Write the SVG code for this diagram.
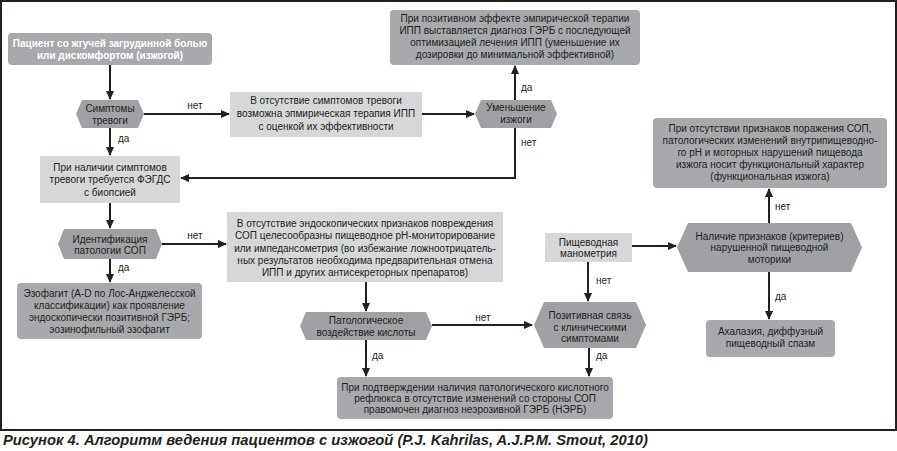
<svg xmlns="http://www.w3.org/2000/svg" width="897" height="451" viewBox="0 0 897 451">
<style>
text{font-family:"Liberation Sans",Arial,sans-serif;font-size:10px;fill:#231f20;text-anchor:middle}
.dark{fill:#a8a9ac}
.hex{fill:#a0a1a4}
.light{fill:#d6d7d8}
.w{fill:#ffffff;font-weight:bold}
.lbl{font-size:10px}
.st{text-anchor:start}
.conn{stroke:#231f20;stroke-width:2;fill:none}
.cap{font-size:15px;font-weight:bold;font-style:italic;text-anchor:start}
</style>
<defs>
<marker id="ah" markerUnits="userSpaceOnUse" markerWidth="9" markerHeight="8" refX="8" refY="4" orient="auto">
<path d="M0,0 L9,4 L0,8 z" fill="#231f20"/>
</marker>
</defs>
<rect x="1" y="1" width="895" height="429" fill="#ffffff" stroke="#231f20" stroke-width="2"/>

<g id="connectors">
<path class="conn" d="M110,65 V99" marker-end="url(#ah)"/>
<path class="conn" d="M144,114 H229" marker-end="url(#ah)"/>
<path class="conn" d="M422,114 H474" marker-end="url(#ah)"/>
<path class="conn" d="M515,100 V66" marker-end="url(#ah)"/>
<path class="conn" d="M515,128 V178 H181" marker-end="url(#ah)"/>
<path class="conn" d="M110,128 V155" marker-end="url(#ah)"/>
<path class="conn" d="M110,203 V228" marker-end="url(#ah)"/>
<path class="conn" d="M162,244 H226" marker-end="url(#ah)"/>
<path class="conn" d="M110,259 V282" marker-end="url(#ah)"/>
<path class="conn" d="M366,282 V311" marker-end="url(#ah)"/>
<path class="conn" d="M432,325 H532" marker-end="url(#ah)"/>
<path class="conn" d="M366,340 V376" marker-end="url(#ah)"/>
<path class="conn" d="M589,348 V376" marker-end="url(#ah)"/>
<path class="conn" d="M588,262 V301" marker-end="url(#ah)"/>
<path class="conn" d="M632,246 H676" marker-end="url(#ah)"/>
<path class="conn" d="M769,223 V189" marker-end="url(#ah)"/>
<path class="conn" d="M769,272 V319" marker-end="url(#ah)"/>
<text x="195" y="109">нет</text>
<text class="st" x="521" y="91">да</text>
<text class="st" x="521" y="146">нет</text>
<text class="st" x="118" y="142">да</text>
<text x="195" y="239">нет</text>
<text class="st" x="118" y="271">да</text>
<text x="483" y="321">нет</text>
<text class="st" x="372" y="359">да</text>
<text class="st" x="596" y="359">да</text>
<text class="st" x="596" y="284">нет</text>
<text class="st" x="775" y="210">нет</text>
<text class="st" x="775" y="300">да</text>
</g>

<g id="n1">
<rect class="dark" x="8" y="33" width="204" height="32" rx="4"/>
<text class="w" x="110" y="47">Пациент со жгучей загрудинной болью</text>
<text class="w" x="110" y="59">или дискомфортом (изжогой)</text>
</g>

<g id="n2">
<polygon class="hex" points="76,114 82,100 138,100 144,114 138,128 82,128"/>
<text x="110" y="111.5">Симптомы</text>
<text x="110" y="123.5">тревоги</text>
</g>

<g id="n3">
<rect class="light" x="230" y="92" width="192" height="45"/>
<text x="326" y="104">В отсутствие симптомов тревоги</text>
<text x="326" y="117">возможна эпмирическая терапия ИПП</text>
<text x="326" y="130">с оценкой их эффективности</text>
</g>

<g id="n4">
<polygon class="hex" points="475,114 481,100 551,100 557,114 551,128 481,128"/>
<text x="516" y="111">Уменьшение</text>
<text x="516" y="123">изжоги</text>
</g>

<g id="n5">
<rect class="dark" x="390" y="10" width="250" height="55" rx="4"/>
<text x="515" y="22">При позитивном эффекте эмпирической терапии</text>
<text x="515" y="34">ИПП выставляется диагноз ГЭРБ с последующей</text>
<text x="515" y="46">оптимизацией лечения ИПП (уменьшение их</text>
<text x="515" y="58">дозировки до минимальной эффективной)</text>
</g>

<g id="n6">
<rect class="light" x="40" y="156" width="140" height="47"/>
<text x="110" y="170.5">При наличии симптомов</text>
<text x="110" y="183">тревоги требуется ФЭГДС</text>
<text x="110" y="195.5">с биопсией</text>
</g>

<g id="n7">
<polygon class="hex" points="58,244 64,229 156,229 162,244 156,259 64,259"/>
<text x="110" y="242.5">Идентификация</text>
<text x="110" y="254">патологии СОП</text>
</g>

<g id="n8">
<rect class="light" x="227" y="212" width="276" height="70"/>
<text x="365" y="226.5">В отсутствие эндоскопических признаков повреждения</text>
<text x="365" y="239">СОП целесообразны пищеводное рН-мониторирование</text>
<text x="365" y="251.5">или импедансометрия (во избежание ложноотрицатель-</text>
<text x="365" y="263.5">ных результатов необходима предварительная отмена</text>
<text x="365" y="275.5">ИПП и других антисекреторных препаратов)</text>
</g>

<g id="n9">
<rect class="dark" x="17" y="283" width="185" height="56" rx="4"/>
<text x="109.5" y="296.5">Эзофагит (A-D по Лос-Анджелесской</text>
<text x="109.5" y="308.5">классификации) как проявление</text>
<text x="109.5" y="321">эндоскопически позитивной ГЭРБ;</text>
<text x="109.5" y="333">эозинофильный эзофагит</text>
</g>

<g id="n10">
<polygon class="hex" points="300,326 306,312 426,312 432,326 426,340 306,340"/>
<text x="366" y="323.5">Патологическое</text>
<text x="366" y="336">воздействие кислоты</text>
</g>

<g id="n11">
<polygon class="hex" points="534,325 544,302 636,302 646,325 636,348 544,348"/>
<text x="590" y="318.5">Позитивная связь</text>
<text x="590" y="330.5">с клиническими</text>
<text x="590" y="342">симптомами</text>
</g>

<g id="n12">
<rect class="light" x="545" y="233" width="87" height="29"/>
<text x="588.5" y="246">Пищеводная</text>
<text x="588.5" y="257">манометрия</text>
</g>

<g id="n13">
<polygon class="hex" points="677,247.5 688,223 851,223 862,247.5 851,272 688,272"/>
<text x="769.5" y="239.5">Наличие признаков (критериев)</text>
<text x="769.5" y="251">нарушенной пищеводной</text>
<text x="769.5" y="262.5">моторики</text>
</g>

<g id="n14">
<rect class="dark" x="653" y="118" width="234" height="70" rx="4"/>
<text x="770" y="131.5">При отсутствии признаков поражения СОП,</text>
<text x="770" y="144">патологических изменений внутрипищеводно-</text>
<text x="770" y="156">го рН и моторных нарушений пищевода</text>
<text x="770" y="168">изжога носит функциональный характер</text>
<text x="770" y="180">(функциональная изжога)</text>
</g>

<g id="n15">
<rect class="dark" x="706" y="320" width="129" height="37" rx="4"/>
<text x="770.5" y="334.5">Ахалазия, диффузный</text>
<text x="770.5" y="346.5">пищеводный спазм</text>
</g>

<g id="n16">
<rect class="dark" x="337" y="377" width="276" height="42" rx="4"/>
<text x="475" y="390.5">При подтверждении наличия патологического кислотного</text>
<text x="475" y="401.5">рефлюкса в отсутствие изменений со стороны СОП</text>
<text x="475" y="412.5">правомочен диагноз неэрозивной ГЭРБ (НЭРБ)</text>
</g>

<text class="cap" x="3" y="445" textLength="645" lengthAdjust="spacingAndGlyphs">Рисунок 4. Алгоритм ведения пациентов с изжогой (P.J. Kahrilas, A.J.P.M. Smout, 2010)</text>
</svg>
